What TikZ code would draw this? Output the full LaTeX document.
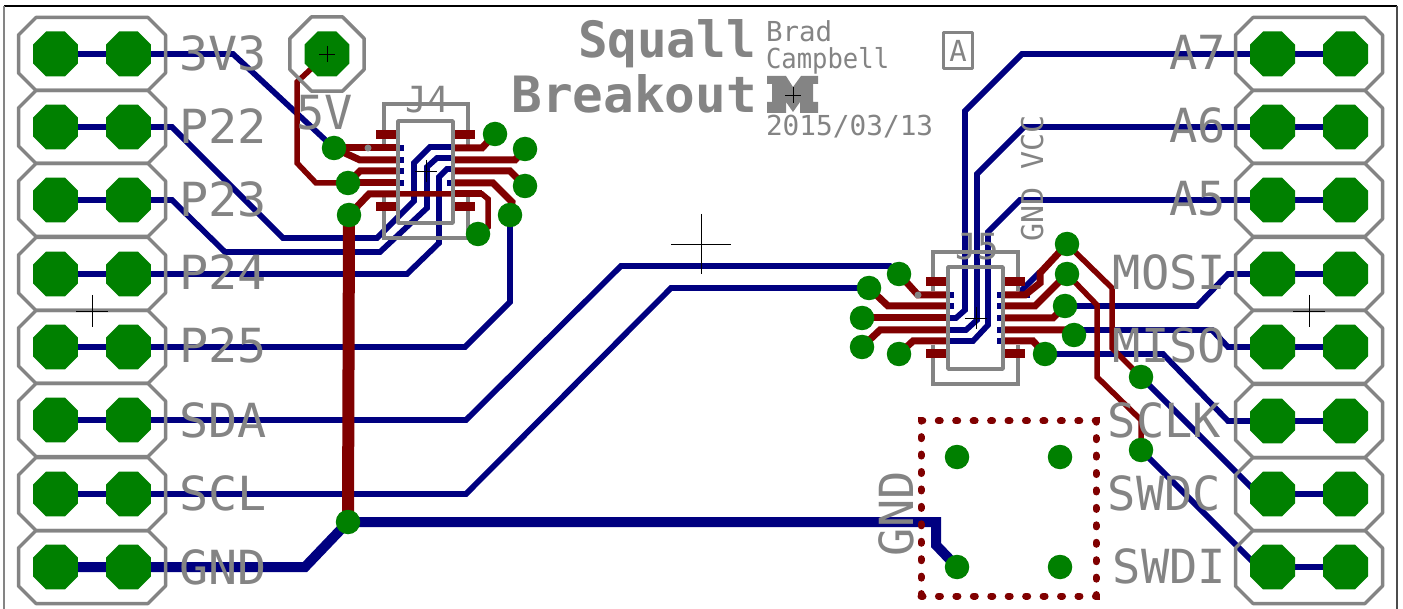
\documentclass[tikz,border=0pt]{standalone}
\usepackage{fontspec}
\usetikzlibrary{shapes.geometric}
\newfontfamily\silkfont{DejaVu Sans Mono}
\definecolor{bluetrace}{RGB}{0,0,128}
\definecolor{redtrace}{RGB}{128,0,0}
\definecolor{padgreen}{RGB}{0,128,0}
\definecolor{silkgray}{RGB}{132,132,132}
\pgfdeclarelayer{bluelayer}
\pgfdeclarelayer{silklayer}
\pgfdeclarelayer{redlayer}
\pgfsetlayers{bluelayer,silklayer,redlayer,main}
\begin{document}
\begin{tikzpicture}[x=1pt, y=-1pt, line join=round,
    padoct/.style={regular polygon, regular polygon sides=8, fill=padgreen, minimum size=48.7pt, inner sep=0pt, outer sep=0pt},
    via/.style={circle, fill=padgreen, minimum size=24.5pt, inner sep=0pt, outer sep=0pt},
    hdrbox/.pic={\draw[outline] (-56,-36.5) -- (56,-36.5) -- (73.5,-19) -- (73.5,19) -- (56,36.5) -- (-56,36.5) -- (-73.5,19) -- (-73.5,-19) -- cycle;},
    single/.style={regular polygon, regular polygon sides=8, draw=silkgray, line width=3.5pt, minimum size=80.5pt, inner sep=0pt, outer sep=0pt},
    btrace/.style={draw=bluetrace, line width=5.7pt},
    bpower/.style={draw=bluetrace, line width=10pt},
    rtrace/.style={draw=redtrace, line width=5.5pt},
    rlead/.style={draw=redtrace, line width=7pt},
    smd/.style={fill=redtrace, minimum width=20pt, minimum height=9pt, inner sep=0pt, outer sep=0pt},
    silk/.style={text=silkgray, inner sep=0pt, outer sep=0pt, font=\silkfont\fontsize{47}{50}\selectfont},
    silkmid/.style={silk, font=\silkfont\fontsize{36}{40}\selectfont},
    silksmall/.style={silk, font=\silkfont\fontsize{27.5}{30}\selectfont},
    silkbig/.style={silk, font=\silkfont\bfseries\fontsize{50}{54}\selectfont},
    outline/.style={draw=silkgray, line width=3.5pt},
    cross/.style={draw=black, line width=0.8pt}]
    \useasboundingbox (0,0) rectangle (1403,609);
    % header pads, left
    \node[padoct] (L1a) at (55.5,54) {};  \node[padoct] (L1b) at (128.5,54) {};
    \node[padoct] (L2a) at (55.5,127) {}; \node[padoct] (L2b) at (128.5,127) {};
    \node[padoct] (L3a) at (55.5,200) {}; \node[padoct] (L3b) at (128.5,200) {};
    \node[padoct] (L4a) at (55.5,274) {}; \node[padoct] (L4b) at (128.5,274) {};
    \node[padoct] (L5a) at (55.5,347) {}; \node[padoct] (L5b) at (128.5,347) {};
    \node[padoct] (L6a) at (55.5,420) {}; \node[padoct] (L6b) at (128.5,420) {};
    \node[padoct] (L7a) at (55.5,494) {}; \node[padoct] (L7b) at (128.5,494) {};
    \node[padoct] (L8a) at (55.5,567) {}; \node[padoct] (L8b) at (128.5,567) {};
    % header pads, right
    \node[padoct] (R1a) at (1272.5,54) {};  \node[padoct] (R1b) at (1345.5,54) {};
    \node[padoct] (R2a) at (1272.5,127) {}; \node[padoct] (R2b) at (1345.5,127) {};
    \node[padoct] (R3a) at (1272.5,200) {}; \node[padoct] (R3b) at (1345.5,200) {};
    \node[padoct] (R4a) at (1272.5,274) {}; \node[padoct] (R4b) at (1345.5,274) {};
    \node[padoct] (R5a) at (1272.5,347) {}; \node[padoct] (R5b) at (1345.5,347) {};
    \node[padoct] (R6a) at (1272.5,421) {}; \node[padoct] (R6b) at (1345.5,421) {};
    \node[padoct] (R7a) at (1272.5,494) {}; \node[padoct] (R7b) at (1345.5,494) {};
    \node[padoct] (R8a) at (1272.5,567) {}; \node[padoct] (R8b) at (1345.5,567) {};
    \node[padoct] (P5V) at (327,54) {};
    % vias around J4
    \node[via] (v1) at (334,148) {};
    \node[via] (v2) at (348,183) {};
    \node[via] (v3) at (349,215) {};
    \node[via] (v4) at (478,234) {};
    \node[via] (v5) at (510,215) {};
    \node[via] (v6) at (525,186) {};
    \node[via] (v7) at (525,149) {};
    \node[via] (v8) at (495,134) {};
    % vias around J5
    \node[via] (u1) at (899,274) {};
    \node[via] (u2) at (869,288) {};
    \node[via] (u3) at (862,318) {};
    \node[via] (u4) at (862,347) {};
    \node[via] (u5) at (899,354) {};
    \node[via] (u6) at (1045,354) {};
    \node[via] (u7) at (1074,335) {};
    \node[via] (u8) at (1065,306) {};
    \node[via] (u9) at (1067,274) {};
    \node[via] (u10) at (1067,244) {};
    % vias lower right
    \node[via] (s1) at (1141,377) {};
    \node[via] (s2) at (1141,450) {};
    \node[via] (g) at (348,522) {};
    \node[via] (t1) at (957,457) {};
    \node[via] (t2) at (1060,457) {};
    \node[via] (t3) at (957,567) {};
    \node[via] (t4) at (1060,567) {};
    % solder pads of the two chips
    \begin{pgfonlayer}{redlayer}
        \node[smd] (J4a) at (386,135) {};
        \node[smd] (J4b) at (465,135) {};
        \node[smd] (J4c) at (386,207) {};
        \node[smd] (J4d) at (465,207) {};
        \node[smd] (J5a) at (936,282) {};
        \node[smd] (J5b) at (1015,282) {};
        \node[smd] (J5c) at (936,354) {};
        \node[smd] (J5d) at (1015,354) {};
        \node[draw=redtrace, line width=7pt, dash pattern=on 2pt off 15.44pt, line cap=round, minimum width=175pt, minimum height=175pt, inner sep=0pt] (J6) at (1008.5,508.5) {};
    \end{pgfonlayer}
    % header bridges and traces on the bottom side
    \begin{pgfonlayer}{bluelayer}
        \fill[white] (0,0) rectangle (1403,609);
        \draw[btrace] (L1a.center) -- (L1b.center) -- (233,54) -- (v1.center);
        \draw[btrace] (L2a.center) -- (L2b.center) -- (172,127) -- (283,238) -- (377,238) -- (414,201) -- (414,163) -- (430,147) -- (451,147);
        \draw[btrace] (L3a.center) -- (L3b.center) -- (172,200) -- (225,252) -- (380,252) -- (427,208) -- (427,167) -- (437,158) -- (451,158);
        \draw[btrace] (L4a.center) -- (L4b.center) -- (407,274) -- (439,243) -- (439,177) -- (447,169) -- (451,169);
        \draw[btrace] (L5a.center) -- (L5b.center) -- (465,347) -- (510,302) -- (v5.center);
        \draw[btrace] (L6a.center) -- (L6b.center) -- (466,420) -- (621,266) -- (890,266) -- (u1.center);
        \draw[btrace] (L7a.center) -- (L7b.center) -- (466,494) -- (671,288) -- (u2.center);
        \draw[bpower] (L8a.center) -- (L8b.center) -- (305,567) -- (g.center) -- (936,522) -- (936,545) -- (t3.center);
        \draw[btrace] (R1b.center) -- (R1a.center) -- (1022,54) -- (965,111) -- (965,310) -- (956,318) -- (949,318);
        \draw[btrace] (R2b.center) -- (R2a.center) -- (1024,127) -- (977,174) -- (977,320) -- (966,330) -- (949,330);
        \draw[btrace] (R3b.center) -- (R3a.center) -- (1020,200) -- (988,232) -- (988,325) -- (973,341) -- (949,341);
        \draw[btrace] (R4b.center) -- (R4a.center) -- (1228,274) -- (1197,306) -- (u8.center);
        \draw[btrace] (R5b.center) -- (R5a.center) -- (1228,347) -- (1212,330) -- (1074,330);
        \draw[btrace] (R6b.center) -- (R6a.center) -- (1228,421) -- (1163,354) -- (u6.center);
        \draw[btrace] (R7b.center) -- (R7a.center) -- (1258,494) -- (s1.center);
        \draw[btrace] (R8b.center) -- (R8a.center) -- (1258,567) -- (s2.center);
        % stubs under the leads
        \foreach \y in {148,160,171,183} {\draw[btrace] (372,\y) -- (404,\y);}
        \draw[btrace] (447,183) -- (480,183);
        \foreach \y in {295,306} {\draw[btrace] (920,\y) -- (954,\y);}
        \foreach \y in {295,306,318,330,341} {\draw[btrace] (997,\y) -- (1030,\y);}
        \draw[btrace] (1020,292) -- (1040,272);
    \end{pgfonlayer}
    % chip outlines that the solder pads cover
    \begin{pgfonlayer}{silklayer}
        \draw[outline] (384,150) -- (384,104) -- (468,104) -- (468,150);
        \draw[outline] (384,197) -- (384,238) -- (468,238) -- (468,197);
        \draw[outline] (933,291) -- (933,252) -- (1018,252) -- (1018,291);
        \draw[outline] (933,345) -- (933,384) -- (1018,384) -- (1018,345);
    \end{pgfonlayer}
    % traces on the top side
    \begin{pgfonlayer}{redlayer}
        \draw[rtrace] (P5V.center) -- (297,82) -- (297,163) -- (316,183) -- (v2.center);
        \draw[rlead] (v1.center) -- (397,148);
        \draw[rlead] (v1.center) -- (360,160) -- (397,160);
        \draw[rlead] (v2.center) -- (360,171) -- (397,171);
        \draw[rlead] (v2.center) -- (397,183);
        \draw[rlead] (v3.center) -- (369,194) -- (397,194);
        \draw[rtrace] (397,194) -- (482,194) -- (488,199) -- (488,227) -- (v4.center);
        \draw[rlead] (454,148) -- (482,148) -- (v8.center);
        \draw[rlead] (454,160) -- (515,160) -- (v7.center);
        \draw[rlead] (454,171) -- (510,171) -- (v6.center);
        \draw[rlead] (454,183) -- (493,183) -- (512,202) -- (v5.center);
        \draw[rlead] (454,194) -- (482,194);
        \draw[draw=redtrace, line width=12pt] (v3.center) -- (g.center);
        \draw[rlead] (u1.center) -- (918,295) -- (947,295);
        \draw[rlead] (u2.center) -- (888,306) -- (947,306);
        \draw[rlead] (u3.center) -- (947,318);
        \draw[rlead] (u4.center) -- (880,330) -- (947,330);
        \draw[rlead] (u5.center) -- (913,341) -- (947,341);
        \draw[rlead] (1004,295) -- (1025,295) -- (1040,283) -- (1040,273) -- (u10.center);
        \draw[rlead] (1004,306) -- (1035,306) -- (u9.center);
        \draw[rlead] (1004,318) -- (1053,318) -- (u8.center);
        \draw[rlead] (1004,330) -- (1070,330) -- (u7.center);
        \draw[rlead] (1004,341) -- (1033,341) -- (u6.center);
        \draw[rtrace] (u10.center) -- (1112,288) -- (1112,348) -- (s1.center);
        \draw[rtrace] (u9.center) -- (1097,305) -- (1097,377) -- (1141,420) -- (s2.center);
    \end{pgfonlayer}
    % header outlines
    \pic at (92,54) {hdrbox};
    \pic at (92,127) {hdrbox};
    \pic at (92,200) {hdrbox};
    \pic at (92,274) {hdrbox};
    \pic at (92,347) {hdrbox};
    \pic at (92,420) {hdrbox};
    \pic at (92,494) {hdrbox};
    \pic at (92,567) {hdrbox};
    \pic at (1309,54) {hdrbox};
    \pic at (1309,127) {hdrbox};
    \pic at (1309,200) {hdrbox};
    \pic at (1309,274) {hdrbox};
    \pic at (1309,347) {hdrbox};
    \pic at (1309,421) {hdrbox};
    \pic at (1309,494) {hdrbox};
    \pic at (1309,567) {hdrbox};
    \node[single] (H5V) at (327,54) {};
    % chip bodies
    \node[outline, minimum width=55pt, minimum height=102pt, inner sep=0pt] (bodyJ4) at (425.5,172) {};
    \node[outline, minimum width=55pt, minimum height=102pt, inner sep=0pt] (bodyJ5) at (975.5,318) {};
    \node[circle, fill=silkgray, minimum size=7pt, inner sep=0pt] (dotJ4) at (368,148) {};
    \node[circle, fill=silkgray, minimum size=7pt, inner sep=0pt] (dotJ5) at (918,295) {};
    % labels, left
    \node[silk, anchor=base west, xscale=1.03] (l3v3) at (179,71) {3V3};
    \node[silk, anchor=base west, xscale=1.03] (lp22) at (179,144) {P22};
    \node[silk, anchor=base west, xscale=1.03] (lp23) at (179,217) {P23};
    \node[silk, anchor=base west, xscale=1.03] (lp24) at (179,290) {P24};
    \node[silk, anchor=base west, xscale=1.03] (lp25) at (179,363) {P25};
    \node[silk, anchor=base west, xscale=1.03] (lsda) at (179,437) {SDA};
    \node[silk, anchor=base west, xscale=1.03] (lscl) at (179,510) {SCL};
    \node[silk, anchor=base west, xscale=1.03] (lgnd) at (179,584) {GND};
    \node[silk, anchor=base west] (l5v) at (296,130) {5V};
    % labels, right
    \node[silk, anchor=base east] (la7) at (1226,70) {A7};
    \node[silk, anchor=base east] (la6) at (1226,143) {A6};
    \node[silk, anchor=base east] (la5) at (1226,216) {A5};
    \node[silk, anchor=base east] (lmosi) at (1226,290) {MOSI};
    \node[silk, anchor=base east] (lmiso) at (1226,363) {MISO};
    \node[silk, anchor=base east] (lsclk) at (1221,437) {SCLK};
    \node[silk, anchor=base east] (lswdc) at (1221,510) {SWDC};
    \node[silk, anchor=base east] (lswdi) at (1226,583) {SWDI};
    \node[silk, anchor=base west, rotate=90] (lgnd2) at (913,556) {GND};
    \node[silksmall, font=\silkfont\fontsize{30}{32}\selectfont, anchor=base west, rotate=90] (lgv) at (1043,242) {GND VCC};
    \node[silkmid, anchor=base] (lj4) at (427,113) {J4};
    \node[silkmid, anchor=base] (lj5) at (977,260) {J5};
    % title block
    \node[silkbig, anchor=base west, xscale=0.985] (ltitle) at (578,58) {Squall};
    \node[silkbig, anchor=base east, xscale=1.02] (ltitle2) at (757,113) {Breakout};
    \node[silksmall, anchor=base west] (lauth) at (766,42) {Brad};
    \node[silksmall, anchor=base west, xscale=0.93] (lauth2) at (766,69) {Campbell};
    \node[silksmall, anchor=base west, xscale=1.01] (ldate) at (766,136) {2015/03/13};
    \node[outline, text=silkgray, minimum width=29pt, minimum height=36pt, inner sep=0pt, font=\silkfont\fontsize{29}{30}\selectfont] (lrev) at (958,50.5) {A};
    \fill[silkgray] (767,76) -- (786,76) -- (793,87) -- (801,76) -- (818,76) -- (818,84) -- (813,84) -- (813,102) -- (818,102) -- (818,113) -- (800,113) -- (800,102) -- (793,112) -- (786,102) -- (786,113) -- (767,113) -- (767,102) -- (772,102) -- (772,84) -- (767,84) -- cycle;
    % board edge
    \draw[black, line width=1.2pt] (4,6) -- (1397,6);
    \draw[silkgray, line width=1.5pt] (4,6) -- (4,609);
    \draw[black!70, line width=1.5pt] (1397,6) -- (1397,609);
    % origin marks
    \draw[cross] (319,54) -- (335,54);
    \draw[cross] (327,46) -- (327,62);
    \draw[cross] (415,171) -- (437,171);
    \draw[cross] (426,160) -- (426,182);
    \draw[cross] (965,318) -- (987,318);
    \draw[cross] (976,307) -- (976,329);
    \draw[cross] (671,244) -- (731,244);
    \draw[cross] (701,214) -- (701,274);
    \draw[cross] (76,311) -- (108,311);
    \draw[cross] (92,295) -- (92,327);
    \draw[cross] (1293,311) -- (1325,311);
    \draw[cross] (1309,295) -- (1309,327);
    \draw[cross] (785,95) -- (801,95);
    \draw[cross] (793,87) -- (793,103);
\end{tikzpicture}
\end{document}
